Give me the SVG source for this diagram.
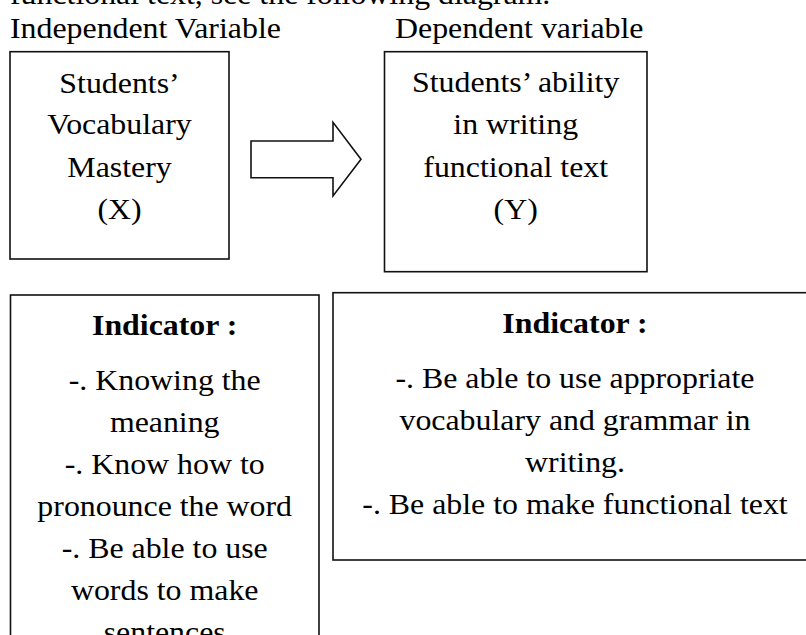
<svg xmlns="http://www.w3.org/2000/svg" width="806" height="635" viewBox="0 0 806 635">
<style>
  text { font-family: "Liberation Serif", "Times New Roman", serif; font-size: 29.5px; fill: #000; }
  .c { text-anchor: middle; }
  .b { font-weight: bold; }
  .box { fill: #fff; stroke: #111; stroke-width: 1.6; }
  .arrow { fill: #fff; stroke: #111; stroke-width: 1.6; stroke-linejoin: miter; }
</style>
<rect x="0" y="0" width="806" height="635" fill="#fff"/>

<g id="caption">
  <g transform="translate(10 0) scale(1.08 1)">
    <text x="0" y="4">functional text, see the following diagram.</text>
    <text x="0" y="37.7">Independent Variable</text>
  </g>
  <g transform="translate(395 0) scale(1.08 1)">
    <text x="0" y="37.7">Dependent variable</text>
  </g>
</g>

<g id="connectors">
  <polygon class="arrow" points="251,141 333,141 333,122.3 361,159.3 333,196 333,177.7 251,177.7"/>
</g>

<g id="node-x">
  <rect class="box" x="10" y="51.7" width="219" height="207.3"/>
  <g transform="translate(119.5 0) scale(1.08 1)">
    <text class="c" x="0" y="92.7">Students’</text>
    <text class="c" x="0" y="134.3">Vocabulary</text>
    <text class="c" x="0" y="176.7">Mastery</text>
    <text class="c" x="0" y="219">(X)</text>
  </g>
</g>

<g id="node-y">
  <rect class="box" x="384.5" y="51.7" width="262.5" height="220"/>
  <g transform="translate(515.7 0) scale(1.08 1)">
    <text class="c" x="0" y="92">Students’ ability</text>
    <text class="c" x="0" y="134.3">in writing</text>
    <text class="c" x="0" y="176.7">functional text</text>
    <text class="c" x="0" y="219.5">(Y)</text>
  </g>
</g>

<g id="indicator-x">
  <rect class="box" x="10.5" y="295" width="308.5" height="360"/>
  <g transform="translate(164.7 0) scale(1.08 1)">
    <text class="c b" x="0" y="335">Indicator :</text>
    <text class="c" x="0" y="390">-. Knowing the</text>
    <text class="c" x="0" y="432.5">meaning</text>
    <text class="c" x="0" y="474.3">-. Know how to</text>
    <text class="c" x="0" y="516">pronounce the word</text>
    <text class="c" x="0" y="558">-. Be able to use</text>
    <text class="c" x="0" y="600">words to make</text>
    <text class="c" x="0" y="642">sentences</text>
  </g>
</g>

<g id="indicator-y">
  <rect class="box" x="333" y="292.7" width="486" height="267.3"/>
  <g transform="translate(575 0) scale(1.08 1)">
    <text class="c b" x="0" y="333.3">Indicator :</text>
    <text class="c" x="0" y="388.3">-. Be able to use appropriate</text>
    <text class="c" x="0" y="430.3">vocabulary and grammar in</text>
    <text class="c" x="0" y="472.3">writing.</text>
    <text class="c" x="0" y="514">-. Be able to make functional text</text>
  </g>
</g>
</svg>
